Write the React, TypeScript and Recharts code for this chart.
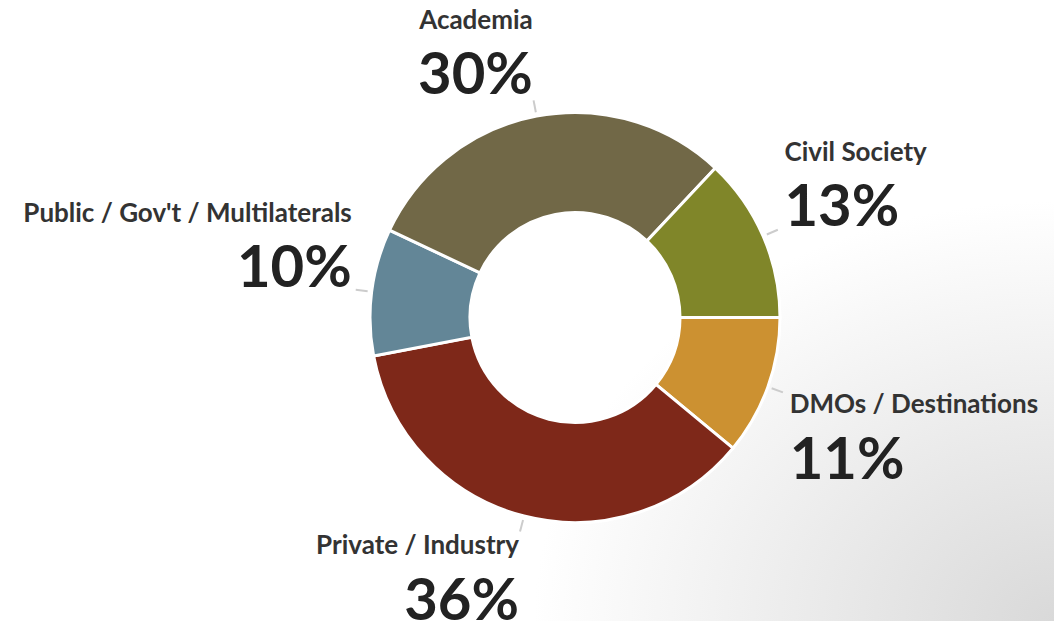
import { PieChart, Pie, Cell } from "recharts";

const categories = [
  "DMOs / Destinations",
  "Private / Industry",
  "Public / Gov't / Multilaterals",
  "Academia",
  "Civil Society",
];
const shares = [11, 36, 10, 30, 13];
const colors = ["#CC9131", "#7E2819", "#638697", "#716847", "#808629"];

const data = categories.map((name, i) => ({ name, value: shares[i] }));

const RADIAN = Math.PI / 180;

const polar = (cx: number, cy: number, r: number, angle: number) => ({
  x: cx + Math.cos(-angle * RADIAN) * r,
  y: cy + Math.sin(-angle * RADIAN) * r,
});

const renderLabel = (props: any) => {
  const { cx, cy, midAngle, outerRadius, name, value } = props;
  const a = polar(cx, cy, outerRadius + 4, midAngle);
  const b = polar(cx, cy, outerRadius + 16, midAngle);
  const p = polar(cx, cy, outerRadius + 20, midAngle);
  const right = Math.cos(midAngle * RADIAN) >= 0;
  const above = Math.sin(midAngle * RADIAN) > 0;
  const tx = right ? p.x + 3 : p.x;
  const anchor = right ? "start" : "end";
  let nameY: number;
  let pctY: number;
  if (above) {
    pctY = p.y - 2;
    nameY = pctY - 65;
  } else {
    nameY = p.y + 19;
    pctY = nameY + 66;
  }
  return (
    <g>
      <line x1={a.x} y1={a.y} x2={b.x} y2={b.y} stroke="#cccccc" strokeWidth={2} />
      <text
        x={tx}
        y={nameY}
        textAnchor={anchor}
        fill="#333333"
        fontSize={26}
        fontWeight={700}
        fontFamily="Lato, 'Open Sans', sans-serif"
      >
        {name}
      </text>
      <text
        x={tx}
        y={pctY}
        textAnchor={anchor}
        fill="#222222"
        fontSize={58}
        fontWeight={700}
        fontFamily="Lato, 'Open Sans', sans-serif"
      >
        {value}%
      </text>
    </g>
  );
};

export default function App() {
  return (
    <div
      style={{
        position: "absolute",
        left: 0,
        top: 0,
        width: 1054,
        height: 621,
        overflow: "hidden",
        background:
          "radial-gradient(ellipse 520px 420px at 100% 100%, #d9d9d9 0%, #ffffff 100%)",
      }}
    >
      <PieChart width={1054} height={621} margin={{ top: 0, right: 0, bottom: 0, left: 0 }}>
        <Pie
          data={data}
          dataKey="value"
          nameKey="name"
          cx={575}
          cy={317.5}
          innerRadius={105}
          outerRadius={205}
          startAngle={0}
          endAngle={-360}
          stroke="#ffffff"
          strokeWidth={3}
          label={renderLabel}
          labelLine={false}
          isAnimationActive={false}
        >
          {data.map((d, i) => (
            <Cell key={d.name} fill={colors[i]} />
          ))}
        </Pie>
      </PieChart>
    </div>
  );
}
